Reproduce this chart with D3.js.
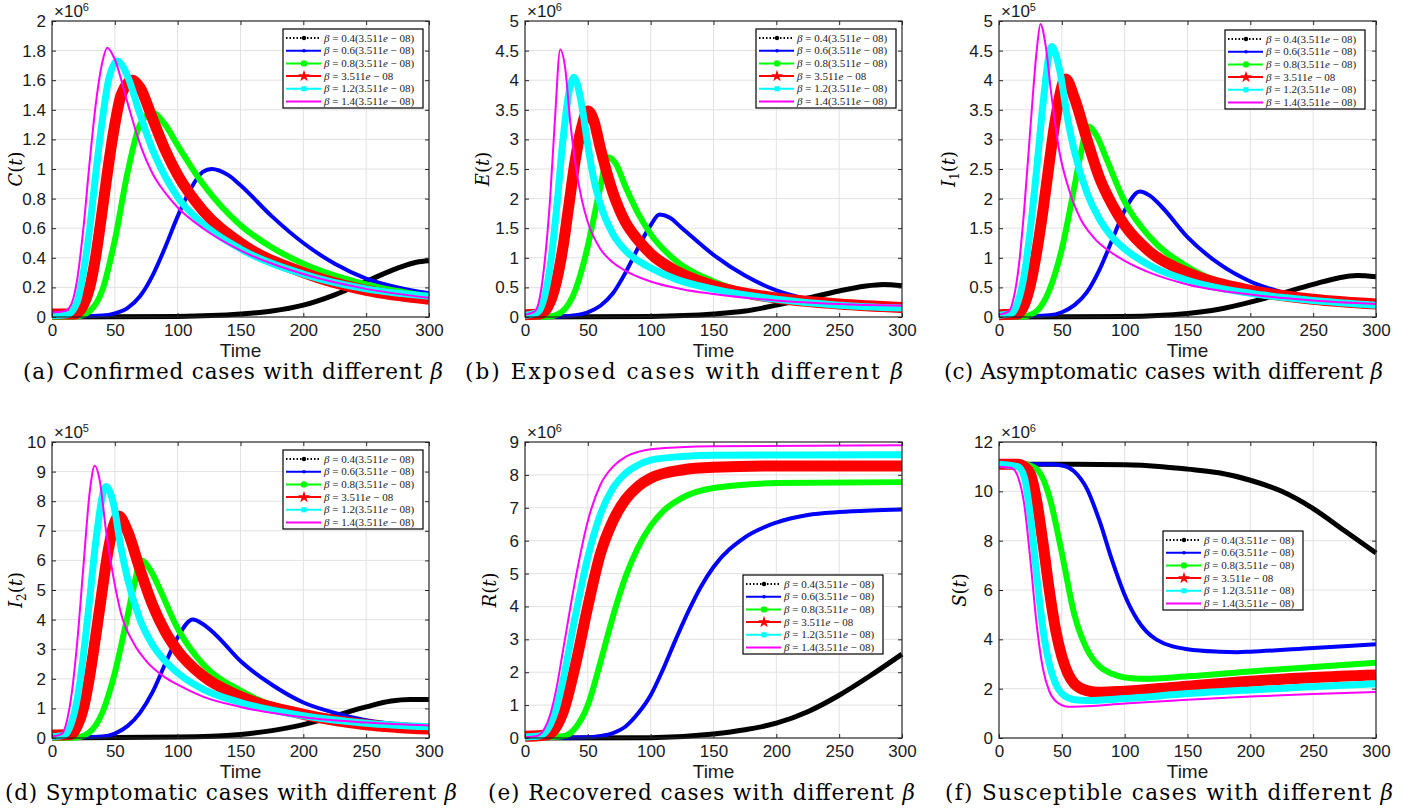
<!DOCTYPE html>
<html><head><meta charset="utf-8">
<script src="https://cdn.jsdelivr.net/npm/d3@7"></script>
<style>body{margin:0;background:#fff}svg{display:block}</style>
</head><body>
<svg id="chart" width="1412" height="812"></svg>
<script>
// ---------------- DATA ----------------
const timeTicks = [0, 50, 100, 150, 200, 250, 300];
const betaFactors = ["0.4", "0.6", "0.8", "", "1.2", "1.4"];

const confirmedTicks = [0, 0.2, 0.4, 0.6, 0.8, 1, 1.2, 1.4, 1.6, 1.8, 2];
const exposedTicks = [0, 0.5, 1, 1.5, 2, 2.5, 3, 3.5, 4, 4.5, 5];
const asymptomaticTicks = [0, 0.5, 1, 1.5, 2, 2.5, 3, 3.5, 4, 4.5, 5];
const symptomaticTicks = [0, 1, 2, 3, 4, 5, 6, 7, 8, 9, 10];
const recoveredTicks = [0, 1, 2, 3, 4, 5, 6, 7, 8, 9];
const susceptibleTicks = [0, 2, 4, 6, 8, 10, 12];

// series order: beta x0.4 (black), x0.6 (blue), x0.8 (green), x1 (red), x1.2 (cyan), x1.4 (magenta)
const confirmed = [
  [[0,0],[100,0.004],[150,0.02],[175,0.04],[200,0.08],[225,0.15],[250,0.24],[275,0.33],[290,0.37],[300,0.38]],
  [[0,0],[40,0.01],[50,0.025],[60,0.06],[70,0.14],[80,0.28],[90,0.47],[100,0.68],[110,0.86],[120,0.98],[127,1.0],[140,0.96],[150,0.89],[175,0.68],[200,0.5],[225,0.36],[250,0.26],[275,0.2],[300,0.16]],
  [[0,0],[20,0.005],[30,0.04],[40,0.18],[50,0.52],[60,0.97],[70,1.3],[80,1.38],[90,1.3],[100,1.16],[120,0.9],[150,0.62],[175,0.47],[200,0.36],[250,0.22],[300,0.14]],
  [[0,0.02],[18,0.02],[25,0.08],[30,0.2],[35,0.42],[40,0.72],[45,1.03],[50,1.3],[55,1.5],[64,1.6],[70,1.55],[80,1.34],[90,1.13],[100,0.96],[120,0.72],[150,0.5],[200,0.3],[250,0.18],[300,0.12]],
  [[0,0.01],[12,0.015],[20,0.1],[25,0.3],[30,0.6],[35,0.98],[40,1.33],[45,1.6],[52,1.73],[60,1.63],[70,1.37],[80,1.13],[90,0.95],[100,0.81],[120,0.63],[150,0.46],[200,0.29],[250,0.19],[300,0.14]],
  [[0,0.03],[10,0.04],[15,0.08],[20,0.25],[25,0.6],[30,1.05],[35,1.45],[40,1.72],[44,1.82],[50,1.74],[60,1.45],[70,1.17],[80,0.97],[90,0.84],[100,0.74],[120,0.6],[150,0.45],[200,0.29],[250,0.19],[300,0.13]]
];
const exposed = [
  [[0,0],[100,0.01],[150,0.05],[175,0.1],[200,0.2],[225,0.32],[250,0.44],[270,0.52],[285,0.55],[300,0.53]],
  [[0,0],[30,0.01],[40,0.03],[50,0.08],[60,0.19],[70,0.4],[80,0.75],[90,1.17],[100,1.55],[107,1.73],[115,1.68],[125,1.5],[150,1.05],[175,0.7],[200,0.45],[225,0.3],[250,0.2],[275,0.14],[300,0.11]],
  [[0,0],[20,0.01],[30,0.1],[40,0.45],[50,1.2],[55,1.7],[60,2.2],[66,2.7],[72,2.6],[80,2.2],[90,1.75],[100,1.4],[120,0.95],[150,0.6],[200,0.33],[250,0.2],[300,0.14]],
  [[0,0.04],[12,0.05],[20,0.25],[25,0.6],[30,1.15],[35,1.9],[40,2.65],[45,3.2],[50,3.48],[55,3.3],[60,2.85],[70,2.1],[80,1.6],[90,1.3],[100,1.07],[120,0.78],[150,0.53],[200,0.32],[250,0.22],[300,0.16]],
  [[0,0.03],[10,0.08],[15,0.3],[20,0.85],[25,1.8],[30,2.95],[35,3.8],[39,4.05],[45,3.6],[50,2.9],[55,2.3],[60,1.9],[70,1.4],[80,1.12],[90,0.95],[100,0.83],[120,0.64],[150,0.47],[200,0.3],[250,0.2],[300,0.15]],
  [[0,0.04],[8,0.1],[12,0.35],[16,1.0],[20,2.0],[24,3.4],[28,4.52],[32,4.2],[36,3.3],[40,2.6],[45,2.0],[50,1.6],[60,1.15],[70,0.92],[80,0.78],[100,0.6],[125,0.47],[150,0.39],[200,0.28],[250,0.22],[300,0.19]]
];
const asymptomatic = [
  [[0,0],[100,0.01],[150,0.06],[175,0.13],[200,0.25],[225,0.4],[250,0.55],[270,0.66],[285,0.7],[300,0.68]],
  [[0,0],[40,0.03],[50,0.08],[60,0.2],[70,0.42],[80,0.8],[90,1.3],[100,1.8],[112,2.12],[120,2.05],[130,1.85],[150,1.35],[175,0.9],[200,0.6],[225,0.42],[250,0.3],[275,0.23],[300,0.19]],
  [[0,0],[20,0.01],[30,0.1],[40,0.45],[50,1.15],[60,2.2],[65,2.75],[71,3.22],[78,3.05],[85,2.7],[100,1.95],[120,1.35],[150,0.85],[200,0.45],[250,0.3],[300,0.22]],
  [[0,0.04],[15,0.05],[20,0.2],[25,0.55],[30,1.1],[35,1.8],[40,2.6],[45,3.35],[53,4.02],[60,3.7],[70,3.0],[80,2.35],[90,1.9],[100,1.55],[120,1.1],[150,0.75],[200,0.45],[250,0.3],[300,0.22]],
  [[0,0.03],[10,0.06],[15,0.25],[20,0.7],[25,1.5],[30,2.5],[35,3.6],[42,4.57],[48,4.2],[55,3.3],[60,2.8],[70,2.1],[80,1.65],[90,1.35],[100,1.15],[120,0.87],[150,0.62],[200,0.4],[250,0.28],[300,0.2]],
  [[0,0.04],[8,0.1],[12,0.35],[16,0.9],[20,1.8],[25,3.2],[30,4.5],[33,4.95],[37,4.6],[42,3.7],[48,2.8],[55,2.2],[65,1.65],[75,1.35],[90,1.08],[100,0.95],[120,0.75],[150,0.55],[200,0.38],[250,0.28],[300,0.22]]
];
const symptomatic = [
  [[0,0],[100,0.03],[150,0.12],[175,0.25],[200,0.45],[225,0.75],[250,1.05],[270,1.25],[285,1.3],[300,1.3]],
  [[0,0],[40,0.05],[50,0.15],[60,0.4],[70,0.85],[80,1.55],[90,2.5],[100,3.4],[112,4.0],[120,3.85],[130,3.5],[150,2.6],[175,1.8],[200,1.2],[225,0.85],[250,0.6],[275,0.46],[300,0.38]],
  [[0,0],[20,0.02],[30,0.2],[40,0.85],[50,2.2],[60,4.1],[65,5.1],[71,6.0],[78,5.7],[85,5.1],[100,3.7],[120,2.5],[150,1.6],[200,0.8],[250,0.5],[300,0.38]],
  [[0,0.1],[15,0.12],[20,0.4],[25,1.0],[30,2.1],[35,3.5],[40,5.0],[45,6.4],[53,7.5],[60,7.0],[70,5.7],[80,4.5],[90,3.6],[100,2.95],[120,2.1],[150,1.4],[200,0.8],[250,0.45],[300,0.3]],
  [[0,0.05],[10,0.1],[15,0.45],[20,1.3],[25,2.8],[30,4.7],[35,6.7],[43,8.5],[49,7.9],[55,6.4],[60,5.4],[70,4.0],[80,3.15],[90,2.6],[100,2.2],[120,1.65],[150,1.2],[200,0.75],[250,0.5],[300,0.38]],
  [[0,0.05],[8,0.15],[12,0.6],[16,1.6],[20,3.2],[25,5.8],[30,8.3],[34,9.2],[38,8.7],[43,7.0],[49,5.4],[55,4.2],[65,3.2],[75,2.6],[90,2.05],[100,1.8],[120,1.4],[150,1.05],[200,0.7],[250,0.52],[300,0.42]]
];
const recovered = [
  [[0,0],[100,0.01],[150,0.12],[175,0.25],[200,0.45],[225,0.8],[250,1.3],[275,1.9],[300,2.55]],
  [[0,0],[50,0.02],[60,0.06],[70,0.15],[80,0.35],[90,0.75],[100,1.3],[110,2.1],[120,3.0],[130,3.85],[140,4.6],[150,5.2],[175,6.1],[200,6.55],[225,6.78],[250,6.87],[275,6.92],[300,6.95]],
  [[0,0],[30,0.05],[40,0.3],[50,1.0],[60,2.3],[70,3.7],[80,4.9],[90,5.8],[100,6.45],[110,6.9],[125,7.3],[150,7.6],[200,7.75],[300,7.78]],
  [[0,0.05],[18,0.1],[25,0.35],[30,0.75],[40,2.2],[50,4.0],[60,5.6],[70,6.6],[80,7.25],[90,7.65],[100,7.9],[125,8.15],[150,8.23],[200,8.27],[300,8.27]],
  [[0,0.03],[12,0.07],[20,0.4],[25,0.9],[30,1.7],[40,3.7],[50,5.5],[60,6.8],[70,7.6],[80,8.05],[90,8.3],[100,8.45],[125,8.56],[150,8.6],[300,8.61]],
  [[0,0.02],[10,0.07],[15,0.25],[20,0.7],[25,1.5],[30,2.6],[40,4.8],[50,6.6],[60,7.7],[70,8.25],[80,8.55],[90,8.7],[100,8.78],[150,8.87],[300,8.9]]
];
const susceptible = [
  [[0,11.1],[50,11.1],[100,11.08],[130,11.0],[150,10.9],[175,10.75],[200,10.45],[225,10.0],[250,9.3],[275,8.4],[300,7.5]],
  [[0,11.1],[40,11.1],[50,11.05],[60,10.8],[70,10.1],[80,8.8],[90,7.2],[100,5.8],[110,4.8],[125,4.0],[150,3.6],[175,3.5],[190,3.48],[200,3.5],[250,3.65],[300,3.8]],
  [[0,11.1],[20,11.1],[30,10.9],[40,9.8],[50,7.5],[60,5.0],[70,3.6],[80,2.9],[90,2.6],[100,2.45],[115,2.4],[150,2.5],[200,2.7],[250,2.88],[300,3.05]],
  [[0,11.1],[15,11.1],[20,11.0],[25,10.7],[30,9.6],[35,7.9],[40,6.0],[45,4.4],[50,3.3],[55,2.6],[60,2.2],[70,1.92],[80,1.85],[100,1.9],[150,2.1],[200,2.3],[250,2.45],[300,2.55]],
  [[0,11.1],[15,11.0],[20,10.6],[25,9.0],[30,6.6],[35,4.4],[40,3.0],[45,2.2],[50,1.8],[60,1.55],[70,1.52],[100,1.6],[150,1.8],[200,1.95],[250,2.08],[300,2.2]],
  [[0,11.0],[10,10.95],[15,10.6],[20,9.5],[25,7.2],[30,4.6],[35,2.8],[40,1.9],[45,1.5],[55,1.27],[65,1.28],[100,1.4],[150,1.55],[200,1.68],[250,1.78],[300,1.86]]
];

// ---------------- STYLE / LAYOUT ----------------
const colors = ["#000000", "#0000ff", "#00ff00", "#ff0000", "#00ffff", "#ff00ff"];
const lineWidths = [5, 4, 6, 11, 7, 2];
const PW = 377, PH = 296;
const tickFont = "'Liberation Sans', Arial, Helvetica, sans-serif";
const serifFont = "'DejaVu Serif', 'Liberation Serif', serif";
const legendFont = "'Liberation Serif', 'Times New Roman', serif";

const panels = [
  {data: confirmed, ticks: confirmedTicks, exp: "6", ylab: ["C", null], x: 52, y: 21, ylabX: 22,
   caption: ["(a) Confirmed cases with different "], capL: 23, capW: 420, leg: [283, 29]},
  {data: exposed, ticks: exposedTicks, exp: "6", ylab: ["E", null], x: 525, y: 21, ylabX: 489,
   caption: ["(b) Exposed cases with different "], capL: 465, capW: 438, leg: [756, 29]},
  {data: asymptomatic, ticks: asymptomaticTicks, exp: "5", ylab: ["I", "1"], x: 999, y: 21, ylabX: 955,
   caption: ["(c) Asymptomatic cases with different "], capL: 944, capW: 439, leg: [1225, 30]},
  {data: symptomatic, ticks: symptomaticTicks, exp: "5", ylab: ["I", "2"], x: 52, y: 442, ylabX: 22,
   caption: ["(d) Symptomatic cases with different "], capL: 5, capW: 452, leg: [283, 450]},
  {data: recovered, ticks: recoveredTicks, exp: "6", ylab: ["R", null], x: 525, y: 442, ylabX: 496,
   caption: ["(e) Recovered cases with different "], capL: 488, capW: 427, leg: [743, 575]},
  {data: susceptible, ticks: susceptibleTicks, exp: "6", ylab: ["S", null], x: 999, y: 442, ylabX: 966,
   caption: ["(f) Susceptible cases with different "], capL: 945, capW: 448, leg: [1163, 531]}
];

const svg = d3.select("#chart");
svg.append("rect").attr("width", 1412).attr("height", 812).attr("fill", "#fff");

function drawPanel(p) {
  const g = svg.append("g").attr("transform", `translate(${p.x},${p.y})`);
  const x = d3.scaleLinear().domain([0, 300]).range([0, PW]);
  const yMax = p.ticks[p.ticks.length - 1];
  const y = d3.scaleLinear().domain([0, yMax]).range([PH, 0]);

  // grid
  g.append("g").selectAll("line").data(timeTicks.slice(1, -1)).join("line")
    .attr("x1", d => x(d)).attr("x2", d => x(d)).attr("y1", 0).attr("y2", PH)
    .attr("stroke", "#e2e2e2").attr("stroke-width", 1);
  g.append("g").selectAll("line").data(p.ticks.slice(1, -1)).join("line")
    .attr("y1", d => y(d)).attr("y2", d => y(d)).attr("x1", 0).attr("x2", PW)
    .attr("stroke", "#e2e2e2").attr("stroke-width", 1);

  // lines
  const line = d3.line().x(d => x(d[0])).y(d => y(d[1])).curve(d3.curveMonotoneX);
  p.data.forEach((s, i) => {
    g.append("path").attr("d", line(s)).attr("fill", "none")
      .attr("stroke", colors[i]).attr("stroke-width", lineWidths[i])
      .attr("stroke-linejoin", "round").attr("stroke-linecap", "butt");
  });

  // axes
  const fmt = d3.format("~g");
  const ax = (axis, tr) => {
    const a = g.append("g").attr("transform", tr).call(axis);
    a.select(".domain").remove();
    a.selectAll("line").attr("stroke", "#262626");
    a.selectAll("text").attr("fill", "#1a1a1a").attr("font-family", tickFont).attr("font-size", 17);
    return a;
  };
  ax(d3.axisLeft(y).tickValues(p.ticks).tickSizeInner(-4).tickSizeOuter(0).tickPadding(6).tickFormat(fmt), null);
  ax(d3.axisRight(y).tickValues(p.ticks).tickSizeInner(-4).tickSizeOuter(0).tickFormat(""), `translate(${PW},0)`);
  const xb = ax(d3.axisBottom(x).tickValues(timeTicks).tickSizeInner(-4).tickSizeOuter(0).tickPadding(7).tickFormat(fmt), `translate(0,${PH})`);
  xb.selectAll("text").attr("dy", "0.71em");
  ax(d3.axisTop(x).tickValues(timeTicks).tickSizeInner(-4).tickSizeOuter(0).tickFormat(""), null);
  g.append("rect").attr("x", 0).attr("y", 0).attr("width", PW).attr("height", PH)
    .attr("fill", "none").attr("stroke", "#262626").attr("stroke-width", 1.2);

  // exponent
  const e = g.append("text").attr("x", 2).attr("y", -4).attr("font-family", tickFont)
    .attr("font-size", 17).attr("fill", "#1a1a1a");
  e.append("tspan").text("×10");
  e.append("tspan").attr("font-size", 11).attr("dy", -6).text(p.exp);

  // x label
  g.append("text").attr("x", PW / 2).attr("y", PH + 40).attr("text-anchor", "middle")
    .attr("font-family", tickFont).attr("font-size", 19).attr("fill", "#1a1a1a").text("Time");

  // y label
  const yl = svg.append("text").attr("transform", `translate(${p.ylabX},${p.y + PH / 2}) rotate(-90)`)
    .attr("text-anchor", "middle").attr("font-family", serifFont).attr("font-size", 18).attr("fill", "#000");
  yl.append("tspan").attr("font-style", "italic").text(p.ylab[0]);
  if (p.ylab[1]) {
    yl.append("tspan").attr("font-size", 12).attr("dy", 4).text(p.ylab[1]);
    yl.append("tspan").attr("dy", -4).text("(");
  } else yl.append("tspan").text("(");
  yl.append("tspan").attr("font-style", "italic").text("t");
  yl.append("tspan").text(")");

  // caption
  const c = svg.append("text").attr("x", p.capL).attr("y", p.y + PH + 62)
    .attr("font-family", serifFont).attr("font-size", 21.5).attr("fill", "#000")
    .attr("textLength", p.capW).attr("lengthAdjust", "spacing");
  c.append("tspan").text(p.caption[0]);
  c.append("tspan").attr("font-style", "italic").text("β");

  // legend
  const LW = 140, LH = 79, rowH = 12.7;
  const lg = svg.append("g").attr("transform", `translate(${p.leg[0]},${p.leg[1]})`);
  lg.append("rect").attr("width", LW).attr("height", LH).attr("fill", "#fff")
    .attr("stroke", "#000").attr("stroke-width", 1.2);
  betaFactors.forEach((b, i) => {
    const ry = 9 + i * rowH;
    const row = lg.append("g").attr("transform", `translate(0,${ry})`);
    row.append("line").attr("x1", 3).attr("x2", 38).attr("y1", 0).attr("y2", 0)
      .attr("stroke", colors[i]).attr("stroke-width", 2)
      .attr("stroke-dasharray", i === 0 ? "1.5,2" : null);
    const cx = 21;
    if (i === 0) row.append("circle").attr("cx", cx).attr("cy", 0).attr("r", 2.2).attr("fill", colors[i]);
    if (i === 1) row.append("circle").attr("cx", cx).attr("cy", 0).attr("r", 1.8).attr("fill", colors[i]);
    if (i === 2) row.append("circle").attr("cx", cx).attr("cy", 0).attr("r", 3.2).attr("fill", colors[i]);
    if (i === 3) row.append("path").attr("d", d3.symbol(d3.symbolStar, 45)()).attr("transform", `translate(${cx},0)`).attr("fill", colors[i]);
    if (i === 4) row.append("path").attr("d", d3.symbol(d3.symbolSquare, 26)()).attr("transform", `translate(${cx},0)`).attr("fill", colors[i]);
    const label = "β = " + (b ? b + "(" : "") + "3.511e − 08" + (b ? ")" : "");
    const t = row.append("text").attr("x", 41).attr("y", 3.6).attr("font-family", legendFont)
      .attr("font-size", 11).attr("fill", "#222");
    const parts = label.split(/(β|e)/).filter(s => s.length);
    parts.forEach(s => t.append("tspan").attr("font-style", (s === "β" || s === "e") ? "italic" : null).text(s));
  });
}

panels.forEach(drawPanel);
</script>
</body></html>
